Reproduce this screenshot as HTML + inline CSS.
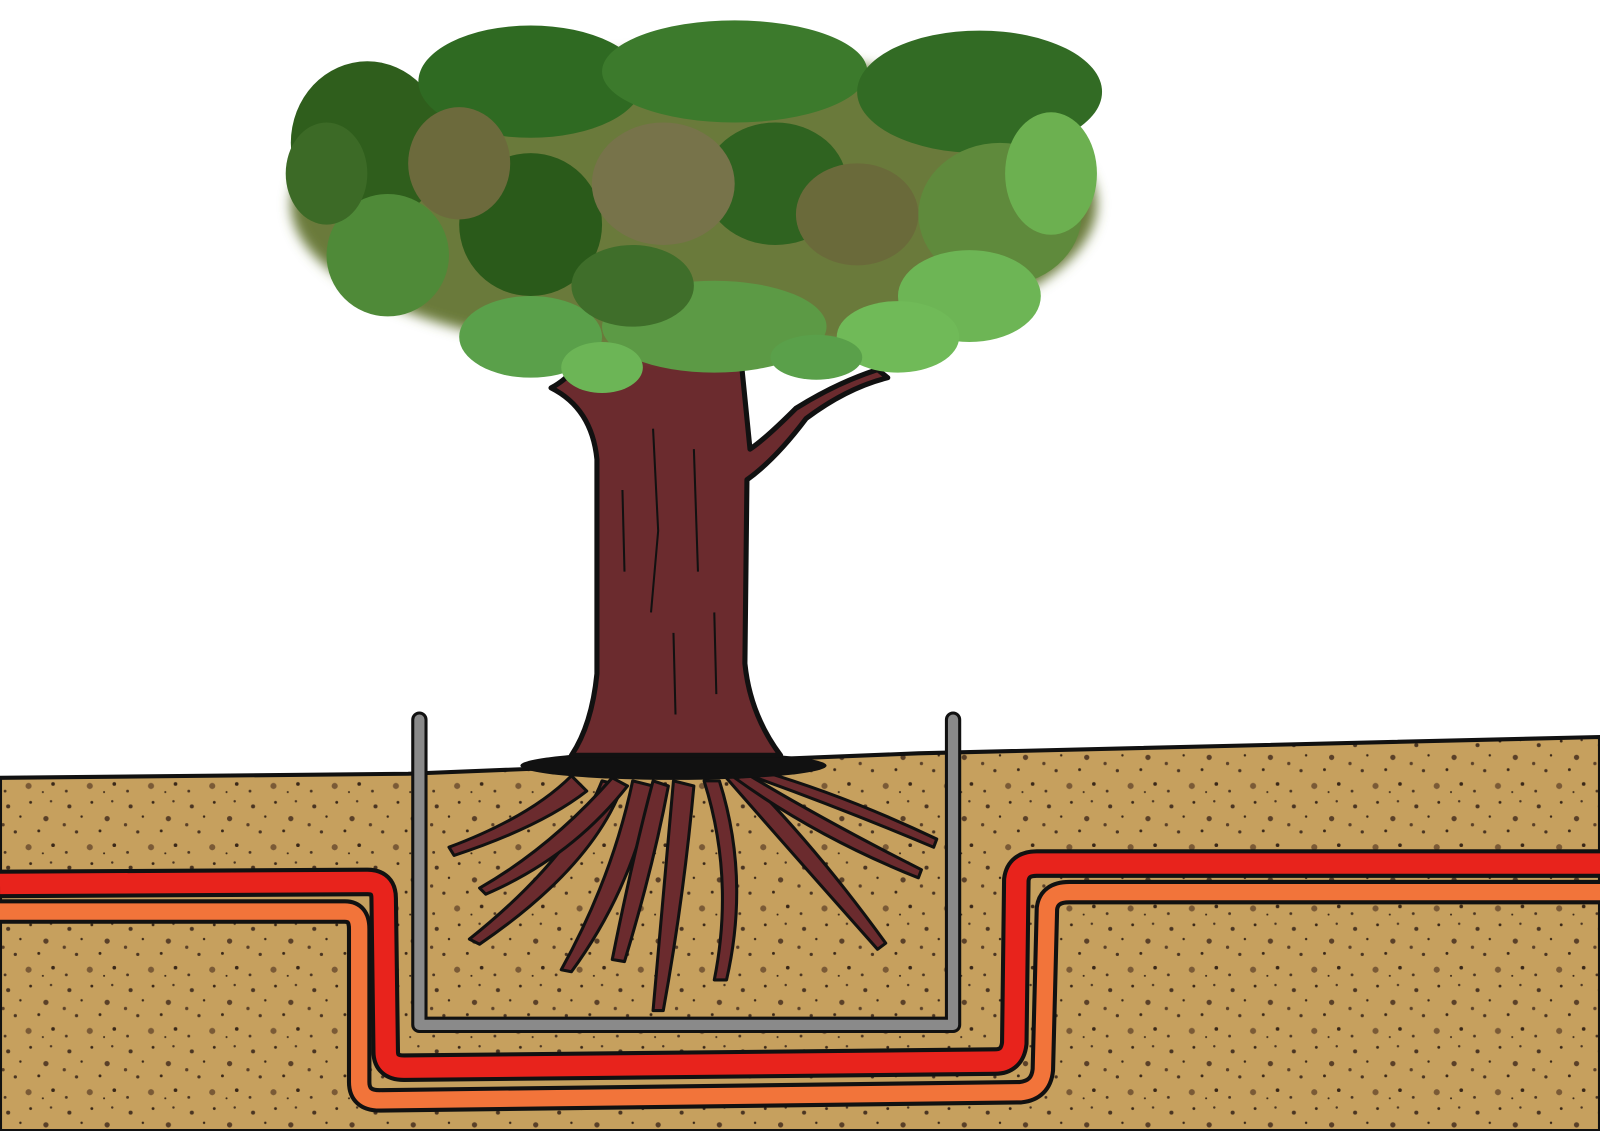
<!DOCTYPE html>
<html><head><meta charset="utf-8"><style>
html,body{margin:0;padding:0;background:#fff;width:1600px;height:1131px;overflow:hidden}
svg{display:block}
</style></head><body>
<svg width="1600" height="1131" viewBox="0 0 1568 1108" preserveAspectRatio="none" xmlns="http://www.w3.org/2000/svg">
<defs>
<pattern id="dirt" width="60" height="60" patternUnits="userSpaceOnUse">
<rect width="60" height="60" fill="#c6a05e"/>
<circle cx="8" cy="10" r="2" fill="#4a3522"/><circle cx="30" cy="6" r="1.4" fill="#3a2818"/>
<circle cx="45" cy="22" r="2.6" fill="#5a4028"/><circle cx="15" cy="35" r="1.6" fill="#4a3522"/>
<circle cx="52" cy="48" r="1.8" fill="#3a2818"/><circle cx="28" cy="50" r="3" fill="#7a5a36"/>
<circle cx="5" cy="55" r="1.4" fill="#4a3522"/><circle cx="38" cy="34" r="1.4" fill="#3a2818"/>
<circle cx="20" cy="20" r="1.2" fill="#3a2818"/><circle cx="50" cy="5" r="1.2" fill="#4a3522"/>
<circle cx="42" cy="56" r="1" fill="#3a2818"/><circle cx="3" cy="28" r="1.6" fill="#5a4028"/>
</pattern>
<filter id="blur"><feGaussianBlur stdDeviation="6"/></filter>
</defs>
<rect width="1568" height="1108" fill="#fff"/>
<path d="M0 762 L400 758 L900 738 L1568 722 L1568 1108 L0 1108Z" fill="url(#dirt)" stroke="#111" stroke-width="4"/>
<path d="M0 893 L338 893 Q352 893 352 910 L352 1060 Q352 1078 372 1078 L1000 1070 Q1020 1068 1022 1048 L1026 890 Q1028 874 1048 874 L1568 874" fill="none" stroke="#111" stroke-width="24"/>
<path d="M0 893 L338 893 Q352 893 352 910 L352 1060 Q352 1078 372 1078 L1000 1070 Q1020 1068 1022 1048 L1026 890 Q1028 874 1048 874 L1568 874" fill="none" stroke="#f2743a" stroke-width="16"/>
<path d="M0 866 L360 864 Q376 864 376 880 L378 1030 Q378 1046 396 1046 L975 1040 Q992 1040 994 1022 L996 862 Q998 846 1016 846 L1568 846" fill="none" stroke="#111" stroke-width="28"/>
<path d="M0 866 L360 864 Q376 864 376 880 L378 1030 Q378 1046 396 1046 L975 1040 Q992 1040 994 1022 L996 862 Q998 846 1016 846 L1568 846" fill="none" stroke="#e8231c" stroke-width="20"/>
<g stroke="#111" stroke-width="3" fill="#6b2b2e" stroke-linejoin="round">
<path d="M560 760 Q520 800 440 830 L445 838 Q530 810 575 775Z"/>
<path d="M590 765 Q560 840 460 920 L470 925 Q580 850 610 770Z"/>
<path d="M620 765 Q600 860 550 950 L560 952 Q620 870 640 770Z"/>
<path d="M660 765 Q650 880 640 990 L650 990 Q670 880 680 770Z"/>
<path d="M690 765 Q720 860 700 960 L712 960 Q735 860 705 765Z"/>
<path d="M710 760 Q780 840 860 930 L868 924 Q800 830 730 760Z"/>
<path d="M730 758 Q820 790 915 830 L918 822 Q830 780 745 755Z"/>
<path d="M720 762 Q800 820 900 860 L903 852 Q810 805 735 760Z"/>
<path d="M600 762 Q540 830 470 870 L476 876 Q560 840 615 770Z"/>
<path d="M640 765 Q620 840 600 940 L612 942 Q640 850 655 770Z"/>
</g>
<ellipse cx="660" cy="750" rx="150" ry="14" fill="#111"/>
<path d="M411 705 L411 1004 L934 1004 L934 705" fill="none" stroke="#111" stroke-width="16" stroke-linejoin="round" stroke-linecap="round"/>
<path d="M411 705 L411 1004 L934 1004 L934 705" fill="none" stroke="#8a8a8a" stroke-width="10" stroke-linejoin="round" stroke-linecap="round"/>
<path d="M540 380 Q580 400 585 450 L585 660 Q580 710 560 740 L765 740 Q735 700 730 650 L732 470 Q760 450 790 410 Q830 380 870 370 L860 362 Q820 375 780 400 Q750 430 735 440 L725 340 L580 340 Q560 370 540 380Z" fill="#6b2b2e" stroke="#111" stroke-width="5" stroke-linejoin="round"/>
<g stroke="#111" stroke-width="2" fill="none">
<path d="M640 420 L645 520 L638 600"/><path d="M680 440 L684 560"/><path d="M610 480 L612 560"/><path d="M700 600 L702 680"/><path d="M660 620 L662 700"/>
</g>
<g>
<ellipse cx="680" cy="200" rx="395" ry="150" fill="#6b7a3a" filter="url(#blur)"/>
<ellipse cx="360" cy="140" rx="75" ry="80" fill="#2f5e1c"/>
<ellipse cx="520" cy="80" rx="110" ry="55" fill="#2f6a22"/>
<ellipse cx="720" cy="70" rx="130" ry="50" fill="#3c7a2c"/>
<ellipse cx="960" cy="90" rx="120" ry="60" fill="#326b24"/>
<ellipse cx="520" cy="220" rx="70" ry="70" fill="#2a5a1a"/>
<ellipse cx="760" cy="180" rx="70" ry="60" fill="#2f6320"/>
<ellipse cx="840" cy="210" rx="60" ry="50" fill="#6a6a3a"/>
<ellipse cx="650" cy="180" rx="70" ry="60" fill="#77734a"/>
<ellipse cx="980" cy="210" rx="80" ry="70" fill="#5f8a3c"/>
<ellipse cx="1030" cy="170" rx="45" ry="60" fill="#6cb050"/>
<ellipse cx="380" cy="250" rx="60" ry="60" fill="#4f8a38"/>
<ellipse cx="950" cy="290" rx="70" ry="45" fill="#6db555"/>
<ellipse cx="520" cy="330" rx="70" ry="40" fill="#5aa04a"/>
<ellipse cx="700" cy="320" rx="110" ry="45" fill="#5c9a45"/>
<ellipse cx="620" cy="280" rx="60" ry="40" fill="#3f6e2a"/>
<ellipse cx="880" cy="330" rx="60" ry="35" fill="#70ba58"/>
<ellipse cx="320" cy="170" rx="40" ry="50" fill="#3c6a26"/>
<ellipse cx="450" cy="160" rx="50" ry="55" fill="#6c6a3c"/>
<ellipse cx="590" cy="360" rx="40" ry="25" fill="#6cb556"/>
<ellipse cx="800" cy="350" rx="45" ry="22" fill="#5aa04a"/>
</g>
</svg>
</body></html>
